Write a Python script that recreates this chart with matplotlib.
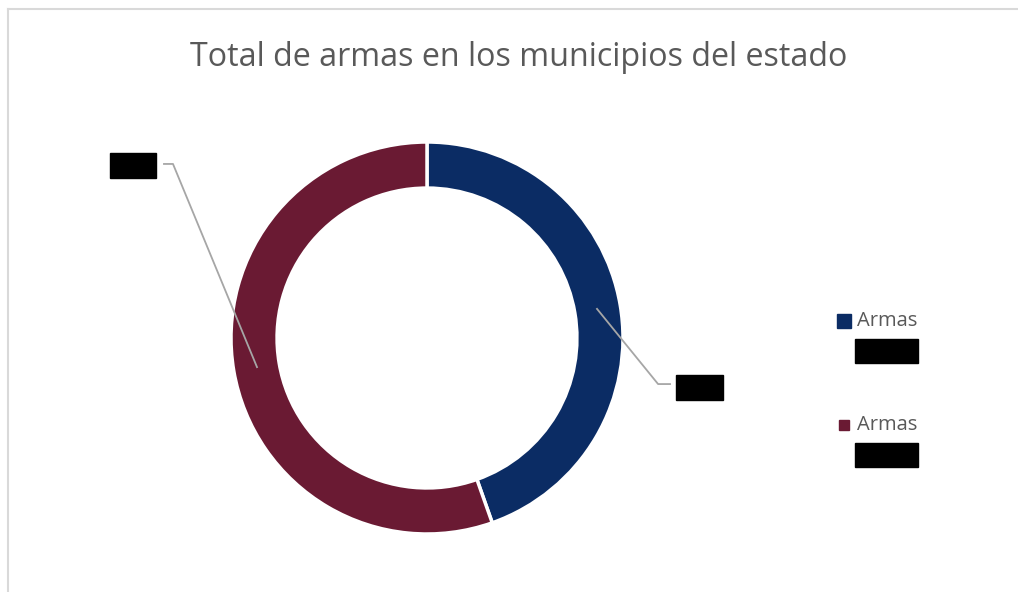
import numpy as np
import matplotlib
matplotlib.use("Agg")
import matplotlib.pyplot as plt
from matplotlib.patches import Rectangle
from matplotlib.lines import Line2D

plt.rcParams['font.family'] = ['Open Sans', 'DejaVu Sans']

# datos (las etiquetas originales están tachadas)
series_names = ['Armas', 'Armas']
values = [44.6, 55.4]
value_labels = ['44.6%', '55.4%']
colors = ['#0b2c64', '#6a1a33']

W, H = 1018, 592
fig = plt.figure(figsize=(W / 100, H / 100), dpi=100)

# borde gris del área del gráfico (solo arriba e izquierda visibles)
fig.add_artist(Line2D([8 / W, 8 / W], [0, 1 - 9 / H], color='#d9d9d9', lw=1.5))
fig.add_artist(Line2D([8 / W, 1], [1 - 9 / H, 1 - 9 / H], color='#d9d9d9', lw=1.5))

fig.text(519 / W, 1 - 57 / H, 'Total de armas en los municipios del estado',
         ha='center', va='center', fontsize=23.2, color='#595959')

cx, cy, R = 427, 338, 196
ax = fig.add_axes([(cx - R) / W, (H - cy - R) / H, 2 * R / W, 2 * R / H])
wedges, _ = ax.pie(values, colors=colors, startangle=90, counterclock=False,
                   radius=1, wedgeprops=dict(width=0.235, edgecolor='white', linewidth=2.5))
ax.set_xlim(-1, 1)
ax.set_ylim(-1, 1)
ax.set_aspect('equal')
ax.axis('off')

# etiquetas de datos con líneas guía
box_pos = [(1.39, -0.253), (-1.5, 0.878)]
elbow = [(1.179, -0.235), (-1.296, 0.888)]
end = [(1.24, -0.235), (-1.342, 0.888)]
for w, lab, bp, el, en in zip(wedges, value_labels, box_pos, elbow, end):
    mid = np.deg2rad((w.theta1 + w.theta2) / 2)
    sx, sy = 0.88 * np.cos(mid), 0.88 * np.sin(mid)
    ax.plot([sx, el[0], en[0]], [sy, el[1], en[1]], color='#a6a6a6', lw=1.3,
            clip_on=False, zorder=3)
    bw, bh = 47 / R, 25 / R
    ax.add_patch(Rectangle((bp[0] - bw / 2, bp[1] - bh / 2), bw, bh, color='black',
                           clip_on=False, zorder=4))
    ax.text(bp[0], bp[1], lab, ha='center', va='center', fontsize=11, color='black',
            zorder=5, clip_on=False)

# leyenda
leg_y = [321, 425]
sq = [14, 10]
for name, col, lab, ly, s in zip(series_names, colors, value_labels, leg_y, sq):
    fig.add_artist(Rectangle(((844 - s / 2) / W, 1 - (ly + s / 2) / H), s / W, s / H,
                             color=col, transform=fig.transFigure))
    fig.text(857 / W, 1 - ly / H, name, ha='left', va='center', fontsize=14.5, color='#595959')
    fig.add_artist(Rectangle((855 / W, 1 - (ly + 42) / H), 63 / W, 24 / H,
                             color='black', transform=fig.transFigure))
    fig.text(886 / W, 1 - (ly + 30) / H, lab, ha='center', va='center', fontsize=11,
             color='black')

fig.savefig('out.png', dpi=100, facecolor='white')
